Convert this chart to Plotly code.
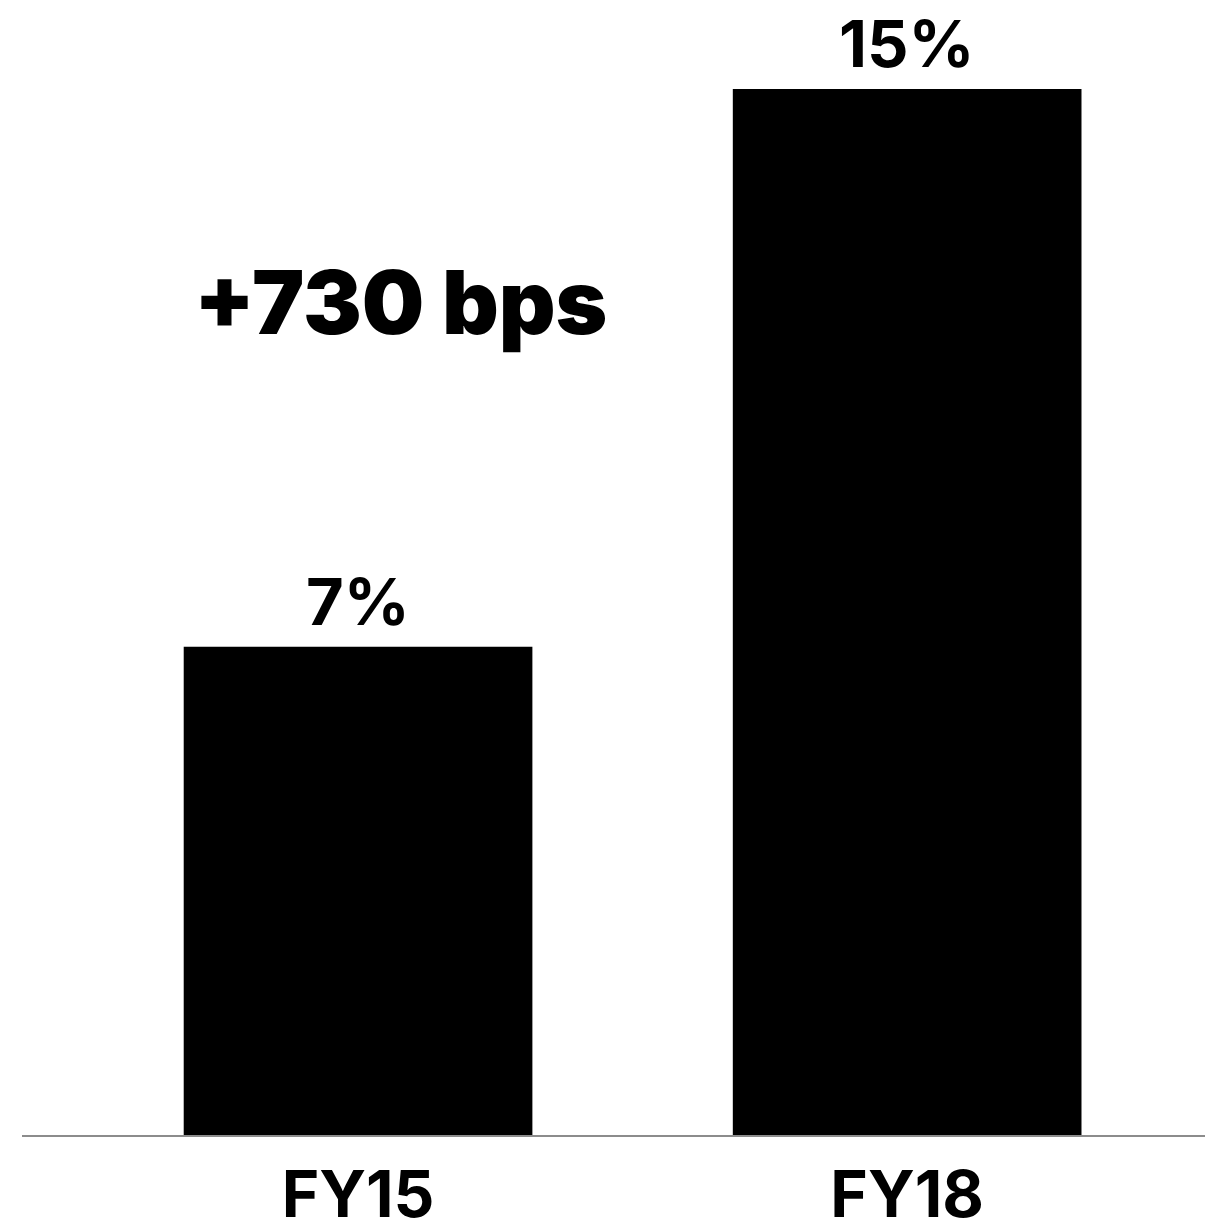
import plotly.graph_objects as go

categories = ["FY15", "FY18"]
values = [7, 15]
value_labels = ["7%", "15%"]
callout = "+730 bps"

fig = go.Figure()
fig.add_trace(go.Bar(
    x=[0, 1], y=values, width=0.635,
    marker=dict(color="#000000", line=dict(width=0)),
    hoverinfo="skip",
))

for i, (v, lab) in enumerate(zip(values, value_labels)):
    fig.add_annotation(x=i, y=v, text=lab, showarrow=False, yanchor="bottom",
                       yshift=4, font=dict(family="Inter", size=65, color="#000000", weight=700),
                       )
fig.add_annotation(x=0.078, y=11.95, text=callout, showarrow=False,
                   xanchor="center", yanchor="middle",
                   font=dict(family="Inter", size=88, color="#000000", weight=900))

fig.update_layout(
    width=1205, height=1218,
    margin=dict(l=14, r=0, t=0, b=91),
    paper_bgcolor="white", plot_bgcolor="white",
    showlegend=False,
    font=dict(family="Inter", color="#000000"),
)
fig.update_xaxes(
    range=[-0.612, 1.557], tickmode="array", tickvals=[0, 1],
    ticktext=categories,
    tickfont=dict(family="Inter", size=64, color="#000000", weight=700),
    showgrid=False, zeroline=False, showline=True, linecolor="#8c8c8c", linewidth=2,
    ticks="", ticklabelstandoff=3, automargin=False,
)
fig.update_yaxes(range=[0, 16.16], visible=False, showgrid=False, zeroline=False,
                 automargin=False)

fig.write_html("out.html")
